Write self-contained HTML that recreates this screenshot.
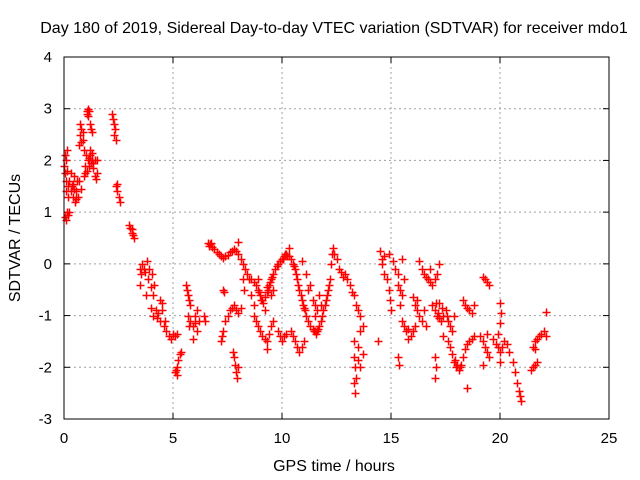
<!DOCTYPE html>
<html><head><meta charset="utf-8"><style>
html,body{margin:0;padding:0;background:#fff;}
svg{display:block;font-family:"Liberation Sans",Arial,sans-serif;}
</style></head><body>
<svg id="chart" width="640" height="480" viewBox="0 0 640 480">
<text x="334" y="33" font-size="16" text-anchor="middle" fill="#000">Day 180 of 2019, Sidereal Day-to-day VTEC variation (SDTVAR) for receiver mdo1</text>
<text x="334" y="471" font-size="16" text-anchor="middle" fill="#000">GPS time / hours</text>
<text transform="translate(20,238) rotate(-90)" font-size="16" text-anchor="middle" fill="#000">SDTVAR / TECUs</text>
<g id="grid"></g>
<g id="axes"></g>
<g id="marks"></g>
<rect x="64" y="57" width="545" height="362" fill="none" stroke="#000" stroke-width="1"/>
</svg>
<script>
const xTicks = [0,5,10,15,20,25];
const yTicks = [-3,-2,-1,0,1,2,3,4];
const sdtvar = [
[0.02,1.9],[0.05,2.1],[0.08,1.6],[0.1,1.4],[0.12,1.8],[0.15,2.2],[0.18,1.5],[0.2,1.3],[0.25,1.6],[0.3,1.4],[0.05,0.9],[0.1,0.85],[0.15,1.0],[0.2,0.95],[0.25,1.0],[0.05,1.75],[0.1,2.0],
[0.35,1.5],[0.4,1.3],[0.45,1.7],[0.5,1.2],[0.55,1.4],[0.6,1.6],[0.65,1.3],[0.4,1.55],[0.55,1.25],[0.3,1.75],[0.45,1.45],
[0.7,2.3],[0.75,2.5],[0.8,2.6],[0.85,2.4],[0.9,2.2],[0.95,1.9],[1.0,2.1],[0.7,1.6],[0.8,1.45],[0.9,1.7],[0.75,2.7],[0.85,2.55],[0.78,2.35],[0.95,1.75],
[1.05,2.9],[1.1,3.0],[1.15,2.95],[1.2,2.7],[1.25,2.6],[1.3,2.55],[1.1,2.85],[1.05,2.95],
[1.05,1.8],[1.1,2.0],[1.15,1.9],[1.2,2.1],[1.25,1.95],[1.3,2.0],[1.35,1.85],[1.4,2.0],[1.5,2.0],[1.4,1.7],[1.45,1.65],[1.5,1.75],[1.2,2.2],[1.3,2.15],[1.15,2.05],[1.35,1.95],
[2.2,2.9],[2.25,2.8],[2.3,2.5],[2.35,2.6],[2.4,2.4],[2.3,2.7],
[2.4,1.5],[2.45,1.4],[2.5,1.3],[2.55,1.2],[2.45,1.55],
[3.0,0.75],[3.05,0.7],[3.1,0.6],[3.15,0.55],[3.2,0.5],[3.1,0.68],
[3.5,-0.1],[3.55,-0.2],[3.6,0.0],[3.7,-0.15],[3.8,0.05],[3.85,-0.3],[3.9,-0.1],[3.5,-0.4],[3.75,-0.6],[3.65,-0.1],
[4.0,-0.45],[4.05,-0.2],[4.1,-0.6],[4.15,-0.4],[4.0,-0.85],[4.1,-1.0],[4.2,-0.9],[4.3,-0.95],[4.4,-0.7],[4.5,-0.75],[4.4,-1.1],[4.5,-0.9],[4.25,-1.05],
[4.6,-1.2],[4.7,-1.3],[4.8,-1.4],[4.9,-1.45],[5.0,-1.35],[5.1,-1.4],[5.2,-1.35],[4.65,-1.1],
[5.1,-2.1],[5.15,-2.05],[5.2,-2.0],[5.25,-1.85],[5.3,-1.75],[5.35,-1.7],[5.2,-2.15],
[5.6,-0.4],[5.65,-0.5],[5.7,-0.6],[5.75,-0.7],[5.8,-0.8],
[5.7,-1.0],[5.8,-1.1],[5.9,-1.2],[6.0,-1.0],[6.1,-0.9],[6.2,-1.1],[5.9,-1.45],[6.1,-1.3],[6.0,-1.15],[5.75,-1.2],
[6.4,-1.0],[6.45,-1.1],
[6.6,0.4],[6.7,0.38],[6.8,0.32],[6.9,0.28],[7.0,0.22],[7.1,0.2],[7.2,0.15],[7.3,0.12],[7.4,0.15],[7.5,0.18],[7.6,0.22],[7.7,0.25],[7.8,0.28],[7.9,0.25],[8.0,0.2],[8.1,0.1],[8.2,0.0],[6.65,0.35],[6.75,0.4],[8.0,0.42],
[7.3,-0.5],[7.35,-0.55],[8.2,-0.3],[8.25,-0.5],
[7.2,-1.5],[7.3,-1.3],[7.4,-1.1],[7.5,-1.0],[7.6,-0.9],[7.7,-0.85],[7.8,-0.8],[7.9,-0.9],[8.0,-0.95],[8.1,-0.85],[7.25,-1.4],
[7.8,-1.8],[7.85,-1.95],[7.9,-2.1],[7.95,-2.2],[8.0,-2.0],[7.75,-1.7],
[8.3,-0.1],[8.4,-0.2],[8.5,-0.3],[8.6,-0.3],[8.7,-0.35],[8.8,-0.4],[8.9,-0.5],[9.0,-0.6],[9.1,-0.7],[9.2,-0.65],[9.3,-0.55],[9.4,-0.4],[9.5,-0.3],[9.6,-0.2],[9.7,-0.1],[9.8,0.0],[9.9,0.05],[10.0,0.1],[10.1,0.15],[10.2,0.2],[10.3,0.15],[10.4,0.1],[10.5,0.0],[10.6,-0.1],[10.7,-0.3],[10.8,-0.5],[10.9,-0.7],[11.0,-0.85],[11.1,-1.0],[11.2,-1.1],[11.3,-1.2],[11.4,-1.25],[11.5,-1.3],[11.6,-1.3],[11.7,-1.2],[11.8,-1.1],[11.9,-0.9],[12.0,-0.7],[12.1,-0.5],[12.2,-0.3],[12.25,0.0],[12.3,0.2],[12.35,0.3],
[8.95,-0.55],[9.05,-0.7],[9.15,-0.75],[9.35,-0.5],[9.45,-0.35],[9.55,-0.25],[9.75,-0.05],[10.05,0.1],[10.15,0.2],[10.25,0.15],[10.55,-0.05],[10.65,-0.2],[10.75,-0.4],[10.85,-0.6],[10.95,-0.8],[11.05,-0.9],[11.45,-1.3],[11.55,-1.35],[11.65,-1.25],[11.85,-1.0],[11.95,-0.8],[12.05,-0.6],[12.15,-0.4],
[8.6,-0.6],[8.7,-0.8],[8.9,-0.3],[9.2,-0.9],[9.3,-0.45],[9.5,-0.6],[9.6,-0.5],
[8.7,-1.0],[8.8,-1.1],[8.9,-1.2],[9.0,-1.3],[9.1,-1.4],[9.2,-1.45],[9.3,-1.5],[9.4,-1.35],[9.5,-1.2],[9.6,-1.1],[9.3,-1.65],
[9.8,-1.3],[9.9,-1.4],[10.0,-1.5],[10.1,-1.4],[10.2,-1.35],[10.4,-1.3],[10.5,-1.4],[10.6,-1.5],[10.7,-1.6],[10.8,-1.7],[10.9,-1.6],[11.0,-1.5],
[10.3,0.3],[10.9,0.05],[11.1,-0.2],[11.3,-0.4],[11.4,-0.7],[11.5,-0.8],[11.6,-0.9],[11.7,-0.6],[11.8,-0.8],[11.2,-0.5],[11.5,-1.0],
[12.5,0.1],[12.6,-0.1],[12.7,-0.15],[12.8,-0.25],[13.0,-0.3],[13.1,-0.4],[13.2,-0.55],[13.3,-0.6],[13.4,-0.8],[13.5,-0.9],[13.6,-1.0],[12.9,-0.2],[12.4,0.2],
[13.3,-1.5],[13.3,-1.8],[13.35,-2.0],[13.3,-2.3],[13.35,-2.5],[13.4,-2.2],[13.5,-1.6],[13.6,-1.3],[13.7,-1.2],[13.6,-2.0],[13.7,-1.75],[13.5,-1.85],
[14.4,-1.5],[14.5,0.25],[14.6,0.1],[14.6,0.0],[14.7,-0.2],[14.8,-0.3],[14.9,0.2],[14.9,-0.5],[14.95,-0.7],[15.0,-0.9],[14.7,0.15],
[15.1,0.05],[15.2,-0.1],[15.3,-0.2],[15.3,-0.4],[15.4,-0.5],[15.5,-0.6],[15.5,0.1],[15.6,-0.3],[15.4,-0.8],
[15.3,-1.8],[15.35,-1.95],
[15.5,-1.1],[15.6,-1.2],[15.7,-1.3],[15.8,-1.25],[15.9,-1.4],[16.0,-1.3],[16.1,-1.2],[15.8,-1.45],
[16.0,-0.65],[16.1,-0.8],[16.2,-0.9],[16.3,-1.0],[16.4,-1.1],[16.5,-0.9],[16.6,-1.2],[16.2,-0.7],
[16.3,0.05],[16.4,-0.1],[16.5,-0.2],[16.6,-0.25],[16.7,-0.3],[16.8,-0.35],[16.9,-0.4],[17.0,-0.3],[17.1,-0.2],[17.2,0.0],[16.8,-0.1],
[16.9,-0.8],[17.0,-0.9],[17.1,-1.0],[17.2,-1.05],[17.3,-1.1],[17.4,-1.0],[17.5,-0.9],[17.6,-1.1],[17.7,-1.2],[17.8,-1.3],[17.9,-1.0],[17.2,-0.75],[17.4,-1.4],[17.05,-0.75],[17.15,-0.95],[17.35,-0.85],[17.55,-1.0],
[17.0,-1.8],[17.05,-2.0],[17.0,-2.2],
[17.6,-1.5],[17.7,-1.6],[17.8,-1.75],[17.9,-1.9],[18.0,-2.0],[18.1,-2.05],[18.2,-1.95],[18.3,-1.8],[18.4,-1.65],[18.5,-1.55],[18.6,-1.5],[18.7,-1.45],[18.8,-1.4],[17.95,-1.85],[18.05,-1.95],[18.15,-2.0],
[18.5,-2.4],
[18.3,-0.7],[18.4,-0.8],[18.5,-0.85],[18.6,-0.9],[18.7,-0.95],[18.8,-0.8],
[19.2,-0.25],[19.3,-0.3],[19.4,-0.35],[19.5,-0.4],
[19.1,-1.4],[19.2,-1.5],[19.3,-1.6],[19.4,-1.7],[19.5,-1.8],[19.2,-1.95],[19.4,-1.35],
[19.7,-1.45],[19.8,-1.55],[19.9,-1.6],[20.0,-1.7],[20.1,-1.6],[20.2,-1.5],[20.3,-1.55],[20.4,-1.7],[20.0,-1.9],[19.9,-1.35],
[20.0,-0.75],[20.05,-0.95],[20.0,-1.15],
[20.6,-1.9],[20.7,-2.1],[20.8,-2.3],[20.85,-2.45],[20.9,-2.55],[20.95,-2.65],
[21.4,-2.05],[21.5,-2.0],[21.6,-1.95],[21.7,-1.9],
[21.5,-1.6],[21.6,-1.5],[21.7,-1.45],[21.8,-1.4],[21.9,-1.35],[22.0,-1.3],[22.1,-1.4],[21.6,-1.65],
[22.1,-0.93]
];
const NS='http://www.w3.org/2000/svg';
const X0=64,X1=609,Y0=419,Y1=57;
function sx(v){return X0+(v-0)/(25-0)*(X1-X0);}
function sy(v){return Y0-(v-(-3))/(4-(-3))*(Y0-Y1);}
const grid=document.getElementById('grid'),axes=document.getElementById('axes'),marks=document.getElementById('marks');
function mk(tag,attrs,parent){const e=document.createElementNS(NS,tag);for(const k in attrs)e.setAttribute(k,attrs[k]);parent.appendChild(e);return e;}
xTicks.forEach(t=>{
  const x=sx(t);
  if(t>0&&t<25){const g=mk('line',{x1:x,y1:Y0,x2:x,y2:Y1,stroke:'#a0a0a0','stroke-dasharray':'2,3'},grid);
  
  }
  const a=mk('line',{x1:x,y1:Y0,x2:x,y2:Y0-6,stroke:'#000'},axes);
  
  
  const b=mk('line',{x1:x,y1:Y1,x2:x,y2:Y1+6,stroke:'#000'},axes);
  
  
  const l=mk('text',{x:x,y:443,'font-size':15,'text-anchor':'middle'},axes);l.textContent=t;
  
  
});
yTicks.forEach(t=>{
  const y=sy(t);
  if(t>-3&&t<4){const g=mk('line',{x1:X0,y1:y,x2:X1,y2:y,stroke:'#a0a0a0','stroke-dasharray':'2,3'},grid);
  
  }
  const a=mk('line',{x1:X0,y1:y,x2:X0+6,y2:y,stroke:'#000'},axes);
  
  
  const b=mk('line',{x1:X1,y1:y,x2:X1-6,y2:y,stroke:'#000'},axes);
  
  
  const l=mk('text',{x:52,y:y+5,'font-size':15,'text-anchor':'end'},axes);l.textContent=t;
  
  
});
sdtvar.forEach(p=>{
  const x=Math.round(sx(p[0]))+0.5,y=Math.round(sy(p[1]))+0.5;
  const m=mk('path',{d:`M${x-4},${y}H${x+4}M${x},${y-4}V${y+4}`,stroke:'#ff0000','stroke-width':1.5,fill:'none'},marks);
  
  
});
</script>
</body></html>
